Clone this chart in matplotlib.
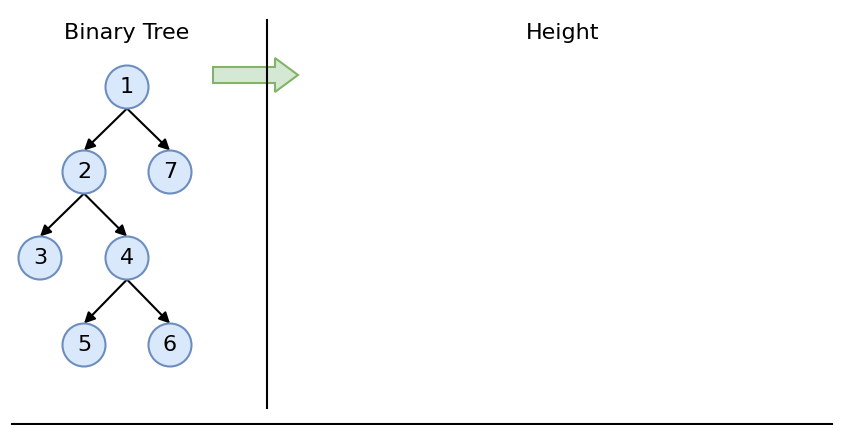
import matplotlib.pyplot as plt
from matplotlib.patches import Circle, FancyArrow

# tree data
node_labels = ["1", "2", "7", "3", "4", "5", "6"]
node_x = [127, 84, 170, 40, 127, 84, 170]
node_y = [87, 172, 172, 258, 258, 345, 345]
edges = [("1", "2"), ("1", "7"), ("2", "3"), ("2", "4"), ("4", "5"), ("4", "6")]
titles = ["Binary Tree", "Height"]
title_x = [127, 563]

r = 21.5
fig = plt.figure(figsize=(8.42, 4.25), dpi=100)
ax = fig.add_axes([0, 0, 1, 1])
ax.set_xlim(0, 842)
ax.set_ylim(425, 0)
ax.set_aspect("equal")
ax.axis("off")

pos = {lab: (x, y) for lab, x, y in zip(node_labels, node_x, node_y)}
for a, b in edges:
    x0, y0 = pos[a]
    x1, y1 = pos[b]
    ax.annotate("", xy=(x1, y1 - r), xytext=(x0, y0 + r),
                arrowprops=dict(arrowstyle="-|>", color="black", lw=1.5,
                                mutation_scale=16, shrinkA=0, shrinkB=0))

for lab, x, y in zip(node_labels, node_x, node_y):
    ax.add_patch(Circle((x, y), r, facecolor="#dae8fc", edgecolor="#6c8ebf", lw=1.5, zorder=3))
    ax.text(x, y, lab, ha="center", va="center", fontsize=16, zorder=4)

for t, x in zip(titles, title_x):
    ax.text(x, 33, t, ha="center", va="center", fontsize=16)

ax.add_patch(FancyArrow(213, 75, 62, 0, width=16, head_width=34, head_length=23,
                        length_includes_head=False, facecolor="#d5e8d4",
                        edgecolor="#82b366", lw=1.5))
ax.plot([267, 267], [20, 408], color="black", lw=1.5)
ax.plot([12, 832], [424, 424], color="black", lw=1.5)

fig.savefig("out.png", dpi=100)
